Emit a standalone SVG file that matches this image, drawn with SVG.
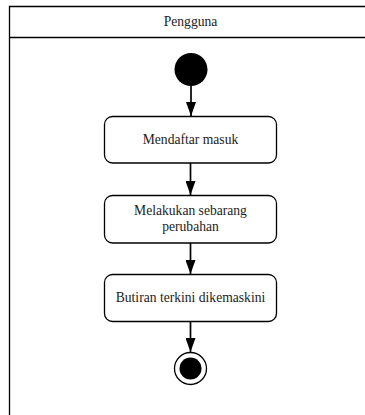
<svg xmlns="http://www.w3.org/2000/svg" width="365" height="415" viewBox="0 0 365 415">
<defs>
<marker id="arr" markerWidth="14" markerHeight="10" refX="14" refY="5" orient="auto" markerUnits="userSpaceOnUse" viewBox="0 0 14 10">
<path d="M0,0 L14,5 L0,10 Z" fill="#000"/>
</marker>
</defs>
<style>
.frame{fill:none;stroke:#000;stroke-width:1.3}
.box{fill:#fff;stroke:#000;stroke-width:1.3}
.t{font-size:13.6px;fill:#222;text-anchor:middle}
.c{stroke:#000;stroke-width:1.7;fill:none}
</style>
<rect width="365" height="415" fill="#fff"/>
<g font-family="'Liberation Serif', 'Times New Roman', serif">
<g id="lane">
<path class="frame" d="M366,6.5 H9.5 V416 M9.5,37.5 H366"/>
<text class="t" x="190.5" y="25.5">Pengguna</text>
</g>
<g id="start"><circle cx="191" cy="69.5" r="16.5" fill="#000"/></g>
<g id="a1"><rect class="box" x="104.5" y="116.5" width="172" height="46.5" rx="8"/>
<text class="t" x="190.5" y="144">Mendaftar masuk</text></g>
<g id="a2"><rect class="box" x="104.5" y="195.5" width="172" height="47.5" rx="8"/>
<text class="t" x="190.5" y="214.5">Melakukan sebarang</text>
<text class="t" x="190.5" y="231">perubahan</text></g>
<g id="a3"><rect class="box" x="104.5" y="274.5" width="172" height="47" rx="8"/>
<text class="t" x="190.5" y="301.5">Butiran terkini dikemaskini</text></g>
<g id="end"><circle cx="190.5" cy="368.5" r="16" fill="#fff" stroke="#000" stroke-width="1.3"/>
<circle cx="190.5" cy="368.5" r="11" fill="#000"/></g>
<g id="connectors">
<line class="c" x1="191" y1="86" x2="191" y2="116" marker-end="url(#arr)"/>
<line class="c" x1="190.5" y1="163" x2="190.5" y2="195" marker-end="url(#arr)"/>
<line class="c" x1="190.5" y1="243" x2="190.5" y2="274" marker-end="url(#arr)"/>
<line class="c" x1="190.5" y1="321.5" x2="190.5" y2="352" marker-end="url(#arr)"/>
</g>
</g>
</svg>
